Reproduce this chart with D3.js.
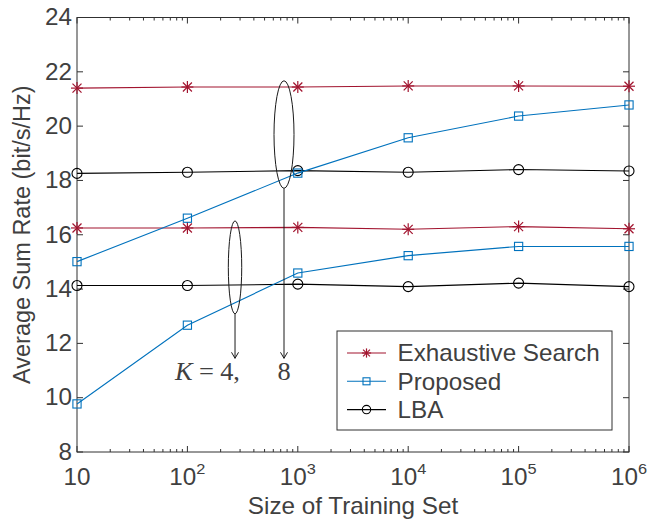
<!DOCTYPE html>
<html><head><meta charset="utf-8">
<script src="https://cdn.jsdelivr.net/npm/d3@7"></script>
<style>
html,body{margin:0;padding:0;background:#fff;}
svg{display:block;font-family:"Liberation Sans",Arial,Helvetica,sans-serif;}
</style></head>
<body>
<svg id="chart" width="656" height="519"></svg>
<script>
// ---- data ----
const sizes = [10, 100, 1e3, 1e4, 1e5, 1e6];
const exhaustiveK8 = [21.40, 21.44, 21.44, 21.48, 21.48, 21.47];
const proposedK8   = [15.01, 16.61, 18.27, 19.57, 20.37, 20.78];
const lbaK8        = [18.26, 18.30, 18.36, 18.30, 18.40, 18.35];
const exhaustiveK4 = [16.25, 16.25, 16.27, 16.20, 16.30, 16.22];
const proposedK4   = [9.77, 12.67, 14.59, 15.23, 15.57, 15.57];
const lbaK4        = [14.13, 14.13, 14.18, 14.09, 14.22, 14.09];
const xTickValues = [10, 100, 1e3, 1e4, 1e5, 1e6];
const xTickBase = ["10", "10", "10", "10", "10", "10"];
const xTickExp  = ["", "2", "3", "4", "5", "6"];
const yTickValues = [8, 10, 12, 14, 16, 18, 20, 22, 24];
const seriesNames = ["Exhaustive Search", "Proposed", "LBA"];
// annotations: K=4 group and K=8 group
const annotX = [270, 750];
const annotCenterY = [14.80, 19.69];
const annotHalfH = [1.71, 1.98];
const annotArrowEndY = 11.45;
const annotLabelY = 10.65;

// ---- layout ----
const svg = d3.select("#chart");
const L = 77, R = 629, T = 17.5, B = 452;
const SX = 1.055; // horizontal stretch of the reference text
const txtColor = "#404040", axColor = "#303030";
const colors = {ex: "#A2142F", pr: "#0072BD", lb: "#000000"};
const fs = 23;

const x = d3.scaleLog().domain([10, 1e6]).range([L, R]);
const y = d3.scaleLinear().domain([8, 24]).range([B, T]);

const g = svg.append("g");

// minor ticks on log axis
const minor = [];
for (let e = 1; e < 6; e++) for (let j = 2; j <= 9; j++) minor.push(j * Math.pow(10, e));

const tk = g.append("g").attr("stroke", axColor).attr("stroke-width", 1);
minor.forEach(v => {
  tk.append("line").attr("x1", x(v)).attr("x2", x(v)).attr("y1", B).attr("y2", B - 3);
  tk.append("line").attr("x1", x(v)).attr("x2", x(v)).attr("y1", T).attr("y2", T + 3);
});
xTickValues.forEach(v => {
  tk.append("line").attr("x1", x(v)).attr("x2", x(v)).attr("y1", B).attr("y2", B - 6);
  tk.append("line").attr("x1", x(v)).attr("x2", x(v)).attr("y1", T).attr("y2", T + 6);
});
yTickValues.forEach(v => {
  tk.append("line").attr("x1", L).attr("x2", L + 6).attr("y1", y(v)).attr("y2", y(v));
  tk.append("line").attr("x1", R).attr("x2", R - 6).attr("y1", y(v)).attr("y2", y(v));
});

// box
g.append("rect").attr("x", L).attr("y", T).attr("width", R - L).attr("height", B - T)
  .attr("fill", "none").attr("stroke", axColor).attr("stroke-width", 1);

// x tick labels
xTickValues.forEach((v, i) => {
  const t = g.append("text")
    .attr("transform", `translate(${x(v)},484.5) scale(${SX},1)`)
    .attr("text-anchor", "middle").attr("fill", txtColor).attr("font-size", fs);
  t.append("tspan").text(xTickBase[i]);
  if (xTickExp[i]) t.append("tspan").attr("font-size", 15.5).attr("dy", -10.5).text(xTickExp[i]);
});
// y tick labels
yTickValues.forEach(v => {
  g.append("text")
    .attr("transform", `translate(72,${y(v)}) scale(${SX},1)`)
    .attr("text-anchor", "end").attr("dominant-baseline", "central")
    .attr("fill", txtColor).attr("font-size", fs).text(v);
});

// axis labels
g.append("text").attr("transform", `translate(${(L + R) / 2},514) scale(${SX},1)`)
  .attr("text-anchor", "middle").attr("fill", txtColor).attr("font-size", fs)
  .text("Size of Training Set");
g.append("text").attr("transform", `translate(30,${(T + B) / 2}) rotate(-90) scale(1,${SX})`)
  .attr("text-anchor", "middle").attr("fill", txtColor).attr("font-size", 23.5)
  .text("Average Sum Rate (bit/s/Hz)");

// markers
function asterisk(sel, cx, cy, r, color) {
  const p = sel.append("g").attr("stroke", color).attr("stroke-width", 1.2);
  p.append("line").attr("x1", cx).attr("x2", cx).attr("y1", cy - r).attr("y2", cy + r);
  p.append("line").attr("x1", cx - r).attr("x2", cx + r).attr("y1", cy).attr("y2", cy);
  const d = r * 0.75;
  p.append("line").attr("x1", cx - d).attr("x2", cx + d).attr("y1", cy - d).attr("y2", cy + d);
  p.append("line").attr("x1", cx - d).attr("x2", cx + d).attr("y1", cy + d).attr("y2", cy - d);
}
function square(sel, cx, cy, h, color) {
  sel.append("rect").attr("x", cx - h).attr("y", cy - h).attr("width", 2 * h).attr("height", 2 * h)
    .attr("fill", "none").attr("stroke", color).attr("stroke-width", 1.1);
}
function circle(sel, cx, cy, r, color) {
  sel.append("circle").attr("cx", cx).attr("cy", cy).attr("r", r)
    .attr("fill", "none").attr("stroke", color).attr("stroke-width", 1.1);
}

const line = d3.line().x(d => x(d[0])).y(d => y(d[1]));
const series = [
  {vals: lbaK8, c: colors.lb, m: "c"},
  {vals: lbaK4, c: colors.lb, m: "c"},
  {vals: exhaustiveK8, c: colors.ex, m: "a"},
  {vals: exhaustiveK4, c: colors.ex, m: "a"},
  {vals: proposedK8, c: colors.pr, m: "s"},
  {vals: proposedK4, c: colors.pr, m: "s"},
];
const sg = g.append("g");
series.forEach(s => {
  const pts = sizes.map((v, i) => [v, s.vals[i]]);
  sg.append("path").attr("d", line(pts)).attr("fill", "none").attr("stroke", s.c).attr("stroke-width", 1.1);
  pts.forEach(p => {
    const cx = x(p[0]), cy = y(p[1]);
    if (s.m === "a") asterisk(sg, cx, cy, 6, s.c);
    else if (s.m === "s") square(sg, cx, cy, 4.1, s.c);
    else circle(sg, cx, cy, 5, s.c);
  });
});

// annotations
const an = g.append("g").attr("stroke", "#1a1a1a").attr("fill", "none").attr("stroke-width", 1);
const rxPx = [6.7, 10];
annotX.forEach((v, i) => {
  const cx = x(v);
  const cy = y(annotCenterY[i]);
  const ry = y(annotCenterY[i] - annotHalfH[i]) - cy;
  an.append("ellipse").attr("cx", cx).attr("cy", cy).attr("rx", rxPx[i]).attr("ry", ry);
  const yEnd = y(annotArrowEndY);
  an.append("line").attr("x1", cx).attr("x2", cx).attr("y1", cy + ry).attr("y2", yEnd);
  an.append("path").attr("d", `M${cx - 3.5},${yEnd - 6} L${cx},${yEnd} L${cx + 3.5},${yEnd - 6}`);
});
const k4 = g.append("text")
  .attr("transform", `translate(${x(annotX[0]) - 60},${y(annotLabelY)}) scale(${SX},1)`)
  .attr("fill", txtColor).attr("font-size", 25).attr("font-family", '"Liberation Serif","Times New Roman",serif');
k4.append("tspan").attr("font-style", "italic").text("K");
k4.append("tspan").attr("dx", 6).text("=");
k4.append("tspan").attr("dx", 6).text("4,");
g.append("text")
  .attr("transform", `translate(${x(annotX[1])},${y(annotLabelY)}) scale(${SX},1)`)
  .attr("text-anchor", "middle").attr("fill", txtColor).attr("font-size", 25)
  .attr("font-family", '"Liberation Serif","Times New Roman",serif').text("8");

// legend
const lg = g.append("g");
lg.append("rect").attr("x", 337).attr("y", 331).attr("width", 275).attr("height", 99)
  .attr("fill", "#fff").attr("stroke", axColor).attr("stroke-width", 1);
const legendRows = [
  {name: seriesNames[0], c: colors.ex, m: "a"},
  {name: seriesNames[1], c: colors.pr, m: "s"},
  {name: seriesNames[2], c: colors.lb, m: "c"},
];
legendRows.forEach((r, i) => {
  const ly = 353 + i * 28.3;
  lg.append("line").attr("x1", 347).attr("x2", 386).attr("y1", ly).attr("y2", ly)
    .attr("stroke", r.c).attr("stroke-width", 1.1);
  if (r.m === "a") asterisk(lg, 366.5, ly, 4.6, r.c);
  else if (r.m === "s") square(lg, 366.5, ly, 3.5, r.c);
  else circle(lg, 366.5, ly, 4.2, r.c);
  lg.append("text").attr("transform", `translate(397.5,${ly + 8.3}) scale(${SX},1)`)
    .attr("fill", txtColor).attr("font-size", fs).text(r.name);
});
</script>
</body></html>
